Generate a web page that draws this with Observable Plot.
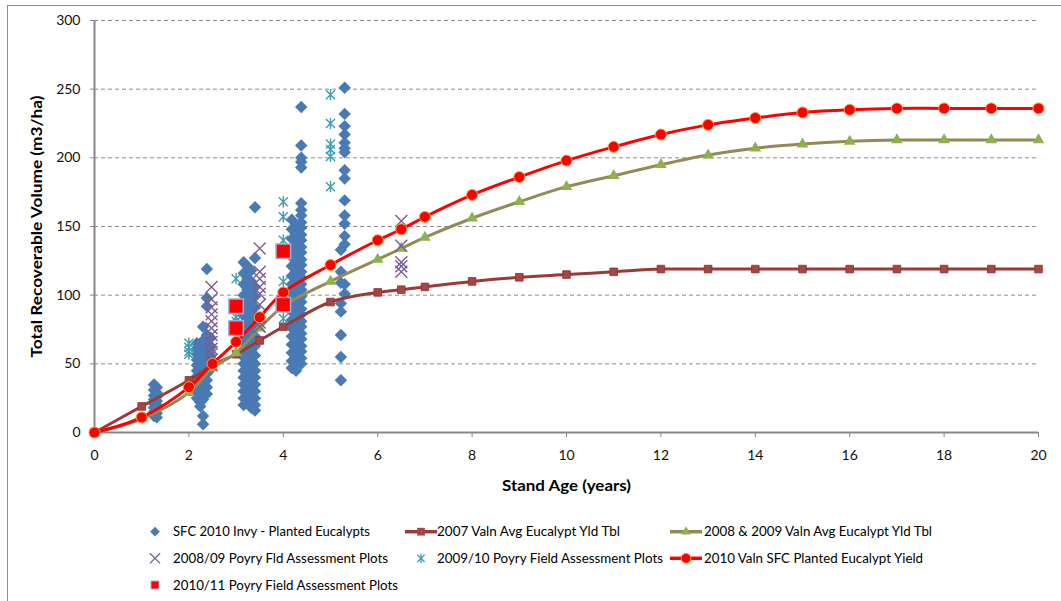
<!DOCTYPE html>
<html><head><meta charset="utf-8">
<script src="https://cdn.jsdelivr.net/npm/d3@7"></script>
<script src="https://cdn.jsdelivr.net/npm/@observablehq/plot@0.6"></script>
<style>
html,body{margin:0;padding:0;background:#fff;overflow:hidden;width:1061px;height:601px;}
#frame{position:absolute;left:7px;top:5px;width:1100px;height:700px;border:1px solid #8e8e8e;box-sizing:border-box;}
#chart{position:absolute;left:0;top:0;}
#legend{position:absolute;left:0;top:505px;}
</style></head><body>
<div id="frame"></div><div id="chart"></div><div id="legend"></div>
<script>
// ---------- data ----------
const xTicks = [0, 2, 4, 6, 8, 10, 12, 14, 16, 18, 20];
const yTicks = [0, 50, 100, 150, 200, 250, 300];
const xTitle = "Stand Age (years)";
const yTitle = "Total Recoverable Volume (m3/ha)";

const seriesNames = [
  "SFC 2010 Invy  - Planted Eucalypts",
  "2007 Valn Avg Eucalypt Yld Tbl",
  "2008 & 2009 Valn  Avg Eucalypt Yld Tbl",
  "2008/09 Poyry Fld Assessment Plots",
  "2009/10 Poyry Field Assessment Plots",
  "2010 Valn SFC Planted  Eucalypt Yield",
  "2010/11 Poyry Field Assessment Plots"
];

// yield table curves
const curveAge = [0, 1, 2, 2.5, 3, 3.5, 4, 5, 6, 6.5, 7, 8, 9, 10, 11, 12, 13, 14, 15, 16, 17, 18, 19, 20];
const valn2007 = [0, 19, 38, 49, 57, 67, 77, 95, 102, 104, 106, 110, 113, 115, 117, 119, 119, 119, 119, 119, 119, 119, 119, 119];
const valn0809 = [0, 10, 29, 47, 58, 76, 92, 110, 126, 134, 142, 156, 168, 179, 187, 195, 202, 207, 210, 212, 213, 213, 213, 213];
const valn2010 = [0, 11, 33, 50, 66, 84, 102, 122, 140, 148, 157, 173, 186, 198, 208, 217, 224, 229, 233, 235, 236, 236, 236, 236];

// SFC 2010 inventory plots (age groups and volumes)
const invyAge = [1.26, 1.32, 2.17, 2.24, 2.3, 2.38, 2.46, 3.16, 3.24, 3.32, 3.4, 4.18, 4.27, 4.38, 5.22, 5.3];
const invyVol = [
  [35, 31, 27, 24, 21, 18, 15, 12],
  [33, 29, 26, 23, 20, 17, 14, 11],
  [65, 61, 57, 53, 49, 45, 41, 37, 33, 29, 25],
  [63, 56, 50, 44, 39, 34, 30, 27, 22, 19],
  [77, 67, 59, 52, 46, 42, 36, 31, 24, 12, 6],
  [119, 98, 92, 71, 64, 58, 52, 47, 43, 38, 33, 28],
  [69, 62, 56, 51, 46],
  [124, 116, 108, 100, 92, 85, 78, 72, 66, 60, 55, 50, 45, 40, 35, 30, 25, 20],
  [121, 112, 104, 96, 88, 81, 74, 68, 62, 57, 52, 47, 42, 37, 32, 27, 22],
  [118, 110, 102, 94, 86, 79, 71, 65, 59, 54, 49, 44, 39, 34, 29, 24, 18],
  [164, 127, 106, 99, 91, 84, 77, 70, 63, 56, 50, 45, 40, 35, 30, 25, 20, 16],
  [155, 148, 141, 134, 128, 121, 114, 108, 101, 95, 88, 82, 76, 70, 64, 58, 52, 47],
  [151, 144, 137, 130, 124, 117, 111, 104, 98, 92, 86, 79, 73, 67, 61, 55, 50, 45],
  [237, 209, 200, 197, 193, 167, 162, 158, 153, 149, 144, 140, 135, 131, 126, 122, 117, 113, 108, 104, 99, 95, 90, 86, 81, 77, 72, 68, 63, 59, 54, 50],
  [133, 117, 109, 94, 88, 71, 55, 38],
  [251, 232, 223, 217, 211, 207, 204, 191, 185, 169, 158, 152, 143, 137, 108, 101]
];

// Poyry field assessment plots
const poyry0809Age = [2.48, 3.5, 6.5];
const poyry0809Vol = [
  [106, 97, 91, 86, 81, 76, 71, 66, 61, 57, 53, 49],
  [134, 117, 112, 106, 101, 93, 84, 80, 77],
  [154, 136, 124, 121, 117]
];
const poyry0910Age = [2, 3, 4, 5];
const poyry0910Vol = [
  [65, 62, 59, 57],
  [112, 84, 81],
  [168, 157, 140, 110, 83],
  [246, 225, 210, 206, 201, 179]
];
const poyry1011Age = [3, 4];
const poyry1011Vol = [
  [92, 76],
  [132, 93]
];

// ---------- build tables ----------
const flat = (ages, vols) => ages.flatMap((a, i) => vols[i].map(v => ({age: a, vol: v})));
const curve = vals => curveAge.map((a, i) => ({age: a, vol: vals[i]}));
const invy = flat(invyAge, invyVol);
const p0809 = flat(poyry0809Age, poyry0809Vol);
const p0910 = flat(poyry0910Age, poyry0910Vol);
const p1011 = flat(poyry1011Age, poyry1011Vol);
const c2007 = curve(valn2007), c0809 = curve(valn0809), c2010 = curve(valn2010);

// Excel-style asterisk: an X crossed by a vertical bar
const excelStar = {
  draw(ctx, size) {
    const r = Math.sqrt(size) * 0.55, d = r * 0.8;
    ctx.moveTo(0, -r); ctx.lineTo(0, r);
    ctx.moveTo(-d, -d); ctx.lineTo(d, d);
    ctx.moveTo(-d, d); ctx.lineTo(d, -d);
  }
};

const C = {
  blue: "#4A7AB4", brownLine: "#9B3B38", brownFill: "#A64542", brownStroke: "#8A3230",
  olive: "#948A54", green: "#8FB04E", red: "#FF0000", orange: "#F2A33A",
  purple: "#7A5C96", teal: "#3E9DB5", sqStroke: "#9AB0D6", axis: "#878787", grid: "#8c8c8c"
};

const chart = Plot.plot({
  width: 1061, height: 505,
  marginLeft: 94, marginRight: 23, marginTop: 20, marginBottom: 73,
  x: {domain: [0, 20]},
  y: {domain: [0, 300]},
  style: {fontFamily: "Lato, 'Open Sans', sans-serif", fontSize: "14px", color: "#000", background: "transparent"},
  marks: [
    Plot.gridY(yTicks.filter(v => v > 0), {stroke: C.grid, strokeOpacity: 1, strokeWidth: 1, strokeDasharray: "4,3"}),
    Plot.axisY({ticks: yTicks, tickSize: 4, tickPadding: 10, label: null, stroke: C.axis, fill: "#111", fontSize: 14}),
    Plot.axisX({ticks: xTicks, tickSize: 5, tickPadding: 13, label: null, stroke: C.axis, fill: "#111", fontSize: 14}),
    Plot.ruleY([0], {stroke: C.axis, strokeWidth: 2}),
    Plot.ruleX([0], {stroke: C.axis, strokeWidth: 2}),
    Plot.text([xTitle], {frameAnchor: "bottom", dy: 58, text: d => d, textAnchor: "middle", fontWeight: "bold", fontSize: 15, fill: "#000"}),
    Plot.text([yTitle], {frameAnchor: "left", dx: -57, rotate: -90, text: d => d, textAnchor: "middle", fontWeight: "bold", fontSize: 15, fill: "#000"}),
    // SFC inventory
    Plot.dot(invy, {x: "age", y: "vol", symbol: "diamond2", r: 5.6, fill: C.blue, stroke: "none"}),
    // 2007 valuation
    Plot.line(c2007, {x: "age", y: "vol", stroke: C.brownLine, strokeWidth: 3, curve: "catmull-rom"}),
    Plot.dot(c2007, {x: "age", y: "vol", symbol: "square", r: 4.3, fill: C.brownFill, stroke: C.brownStroke, strokeWidth: 0.8}),
    // 2008 & 2009 valuation
    Plot.line(c0809, {x: "age", y: "vol", stroke: C.olive, strokeWidth: 3, curve: "catmull-rom"}),
    Plot.dot(c0809, {x: "age", y: "vol", symbol: "triangle", r: 4.3, fill: C.green, stroke: "none"}),
    // 2008/09 Poyry
    Plot.dot(p0809, {x: "age", y: "vol", symbol: "times", r: 5.5, stroke: C.purple, strokeWidth: 1.4, fill: "none"}),
    // 2009/10 Poyry
    Plot.dot(p0910, {x: "age", y: "vol", symbol: excelStar, r: 5.8, stroke: C.teal, strokeWidth: 1.4, fill: "none"}),
    // 2010 valuation
    Plot.line(c2010, {x: "age", y: "vol", stroke: C.red, strokeWidth: 3, curve: "catmull-rom"}),
    Plot.dot(c2010, {x: "age", y: "vol", symbol: "circle", r: 5.5, fill: C.red, stroke: C.orange, strokeWidth: 1}),
    // 2010/11 Poyry
    Plot.dot(p1011, {x: "age", y: "vol", symbol: "square", r: 8.2, fill: C.red, stroke: C.sqStroke, strokeWidth: 1.5})
  ]
});
document.getElementById("chart").appendChild(chart);

// pin axis title widths
d3.select(chart).selectAll("text").each(function() {
  const t = this.textContent;
  if (t === xTitle) d3.select(this).attr("textLength", 129).attr("lengthAdjust", "spacingAndGlyphs");
  if (t === yTitle) d3.select(this).attr("textLength", 262).attr("lengthAdjust", "spacingAndGlyphs");
});

// ---------- legend ----------
const lg = d3.create("svg").attr("width", 1061).attr("height", 96)
  .style("font-family", "Lato, 'Open Sans', sans-serif").style("font-size", "13.5px");
const sym = (type, size) => d3.symbol(type, size)();
const rows = [26.7, 53.3, 80];
const items = [
  {name: seriesNames[0], col: 0, row: 0, w: 197, kind: "dot", sym: d3.symbolDiamond2, size: 60, fill: C.blue},
  {name: seriesNames[1], col: 1, row: 0, w: 183, kind: "line", color: C.brownLine, sym: d3.symbolSquare, size: 60, fill: C.brownFill},
  {name: seriesNames[2], col: 2, row: 0, w: 228, kind: "line", color: C.olive, sym: d3.symbolTriangle, size: 40, fill: C.green},
  {name: seriesNames[3], col: 0, row: 1, w: 215, kind: "stroke", sym: d3.symbolTimes, size: 70, color: C.purple},
  {name: seriesNames[4], col: 1, row: 1, w: 226, kind: "stroke", sym: excelStar, size: 70, color: C.teal},
  {name: seriesNames[5], col: 2, row: 1, w: 219, kind: "line", color: C.red, sym: d3.symbolCircle, size: 75, fill: C.red, stroke: C.orange},
  {name: seriesNames[6], col: 0, row: 2, w: 225, kind: "dot", sym: d3.symbolSquare, size: 64, fill: C.red, stroke: C.sqStroke}
];
const cols = [{mx: 155, tx: 173}, {mx: 421, tx: 437}, {mx: 686, tx: 704}];
for (const it of items) {
  const c = cols[it.col], y = rows[it.row];
  const g = lg.append("g");
  if (it.kind === "line") {
    g.append("line").attr("x1", c.mx - 16).attr("x2", c.mx + 16).attr("y1", y).attr("y2", y)
      .attr("stroke", it.color).attr("stroke-width", 3.5);
  }
  const p = g.append("path").attr("d", sym(it.sym, it.size)).attr("transform", `translate(${c.mx},${y})`);
  if (it.kind === "stroke") p.attr("fill", "none").attr("stroke", it.color).attr("stroke-width", 1.3);
  else p.attr("fill", it.fill).attr("stroke", it.stroke || "none").attr("stroke-width", 1);
  g.append("text").attr("x", c.tx).attr("y", y).attr("dy", "0.35em").attr("fill", "#000")
    .attr("textLength", it.w).attr("lengthAdjust", "spacingAndGlyphs").text(it.name);
}
document.getElementById("legend").appendChild(lg.node());
</script></body></html>
